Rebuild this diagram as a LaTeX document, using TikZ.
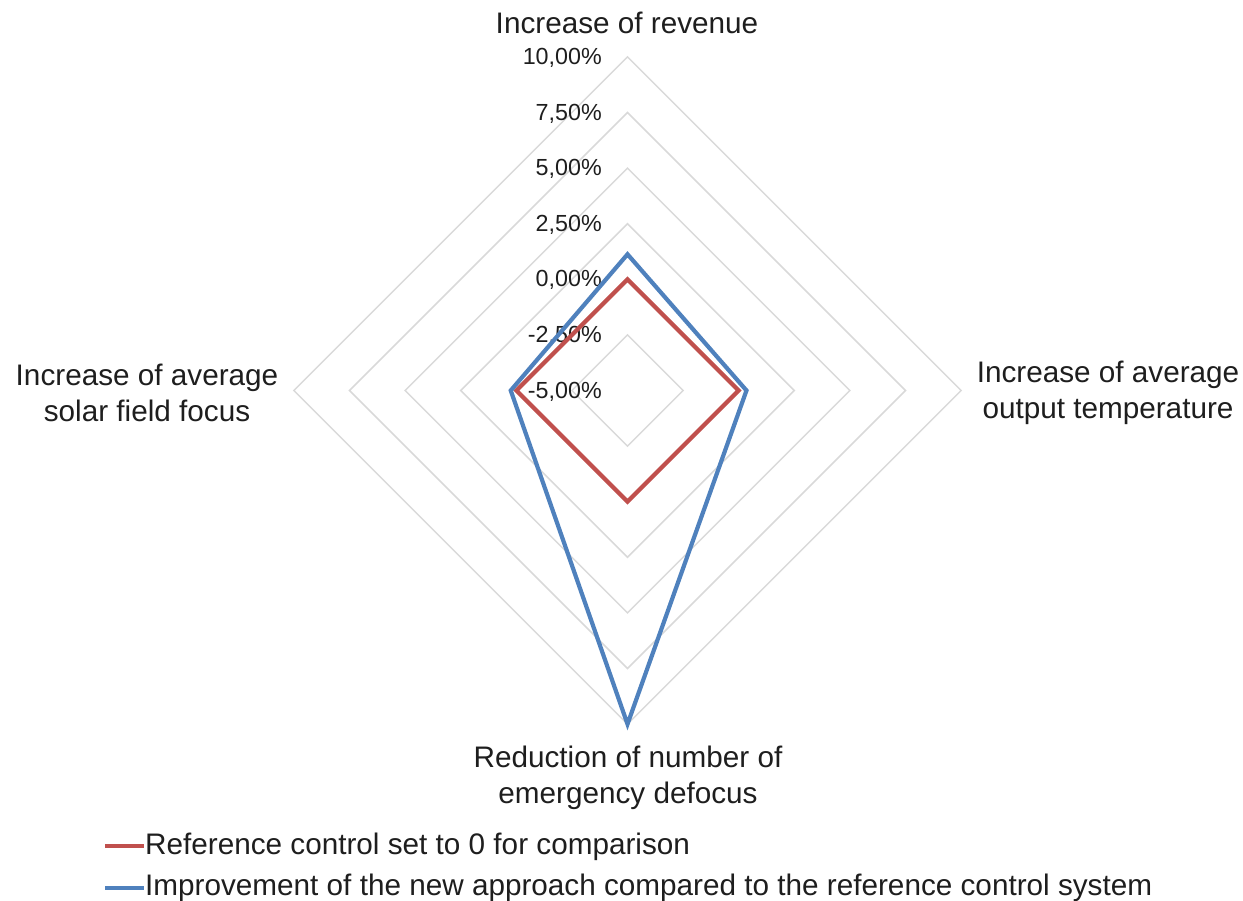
\documentclass[tikz,border=0pt]{standalone}
\usepackage{fontspec}
\setmainfont{Liberation Sans}
\definecolor{gridgray}{RGB}{217,217,217}
\definecolor{serred}{RGB}{192,80,77}
\definecolor{serblue}{RGB}{79,129,189}
\definecolor{txt}{RGB}{30,30,30}
\tikzset{
  gridline/.style={draw=gridgray, line width=1.5pt, line join=miter},
  series/.style={line width=4.2pt, line join=miter},
  axislabel/.style={font=\fontsize{29.7}{35.7}\selectfont, text=txt, align=center, inner sep=0pt},
  ticklabel/.style={font=\fontsize{23.3}{28}\selectfont, text=txt, anchor=east, inner sep=0pt},
  legendtext/.style={font=\fontsize{29.7}{35.7}\selectfont, text=txt, anchor=west, inner sep=0pt},
}
\begin{document}
\begin{tikzpicture}[x=1pt,y=-1pt]
\useasboundingbox (0,0) rectangle (1243,901);
\def\cx{627.5}\def\cy{390.5}\def\s{55.6}
% grid rings
\foreach \k in {1,...,6}{
  \draw[gridline] (\cx,\cy-\k*\s) -- (\cx+\k*\s,\cy) -- (\cx,\cy+\k*\s) -- (\cx-\k*\s,\cy) -- cycle;
}
% tick labels
\foreach \k/\t in {0/{-5,00\%},1/{-2,50\%},2/{0,00\%},3/{2,50\%},4/{5,00\%},5/{7,50\%},6/{10,00\%}}{
  \node[ticklabel] (tick\k) at (602,\cy-\k*\s+1) {\t};
}
% red series (all zero)
\coordinate (rt) at (\cx,\cy-2*\s);
\coordinate (rr) at (\cx+2*\s,\cy);
\coordinate (rb) at (\cx,\cy+2*\s);
\coordinate (rl) at (\cx-2*\s,\cy);
\draw[series, serred] (rt) -- (rr) -- (rb) -- (rl) -- cycle;
% blue series
\coordinate (bt) at (\cx,\cy-2.45*\s);
\coordinate (br) at (\cx+2.14*\s,\cy);
\coordinate (bb) at (\cx,\cy+6*\s);
\coordinate (bl) at (\cx-2.1*\s,\cy);
\draw[series, serblue] (bt) -- (br) -- (bb) -- (bl) -- cycle;
% axis labels
\node[axislabel] (top) at (627,23) {Increase of revenue};
\node[axislabel] (right) at (1108,393) {Increase of average\\output temperature};
\node[axislabel] (left) at (147,393) {Increase of average\\solar field focus};
\node[axislabel] (bottom) at (628,778) {Reduction of number of\\emergency defocus};
% legend
\coordinate (l1a) at (105,846); \coordinate (l1b) at (144,846);
\coordinate (l2a) at (105,888); \coordinate (l2b) at (144,888);
\draw[line width=4pt, serred] (l1a) -- (l1b);
\draw[line width=4pt, serblue] (l2a) -- (l2b);
\node[legendtext] (leg1) at (145,847) {Reference control set to 0 for comparison};
\node[legendtext] (leg2) at (145,888) {Improvement of the new approach compared to the reference control system};
\end{tikzpicture}
\end{document}
